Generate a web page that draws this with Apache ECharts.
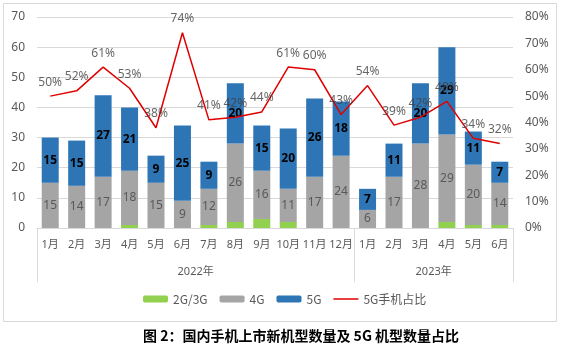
<!DOCTYPE html>
<html><head><meta charset="utf-8">
<script src="https://cdn.jsdelivr.net/npm/echarts@6/dist/echarts.min.js"></script>
<style>html,body{margin:0;padding:0;background:#fff}#c{width:563px;height:350px}</style>
</head><body><div id="c"></div>
<script>
const months = ['1月','2月','3月','4月','5月','6月','7月','8月','9月','10月','11月','12月','1月','2月','3月','4月','5月','6月'];
const yearLabels = ['2022年','2023年'];
const g23 = [0,0,0,1,0,0,1,2,3,2,0,0,0,0,0,2,1,1];
const g4 = [15,14,17,18,15,9,12,26,16,11,17,24,6,17,28,29,20,14];
const g5 = [15,15,27,21,9,25,9,20,15,20,26,18,7,11,20,29,11,7];
const share5g = [50,52,61,53,38,74,41,42,44,61,60,43,54,39,42,48,34,32];
const leftTicks = [0,70,10];
const rightTicks = [0,80,10];

const FONT = '"Noto Sans","Noto Sans CJK SC",sans-serif';
const chart = echarts.init(document.getElementById('c'), null, {renderer:'canvas'});
chart.setOption({
  animation:false,
  textStyle:{fontFamily:FONT},
  title:{text:'图 2：国内手机上市新机型数量及 5G 机型数量占比', left:138, top:324,
    textStyle:{fontSize:14, fontWeight:'bold', color:'#000', fontFamily:'"Noto Sans CJK SC",sans-serif'}},
  graphic:[{type:'rect', shape:{x:3.5,y:3.5,width:553,height:318}, style:{fill:'none', stroke:'#D9D9D9', lineWidth:1}, silent:true}],
  legend:{left:138, top:288, itemWidth:25, itemHeight:7, itemGap:12,
    textStyle:{fontSize:12, color:'#595959', fontFamily:'"Noto Sans CJK SC",sans-serif'},
    data:['2G/3G','4G','5G',{name:'5G手机占比', icon:'path://M0,0H25V1.5H0Z', itemStyle:{color:'#E00000', borderWidth:0}}]},
  grid:{left:37, right:50, top:17, bottom:122, containLabel:false},
  xAxis:[
    {type:'category', data:months, position:'bottom',
     axisLine:{lineStyle:{color:'#D9D9D9'}}, axisTick:{show:false},
     axisLabel:{interval:0, margin:11, fontSize:11, color:'#595959'}},
    {type:'value', min:0, max:18, position:'bottom',
     axisLine:{show:false}, splitLine:{show:false},
     axisTick:{show:true, length:54, lineStyle:{color:'#D9D9D9'}, customValues:[0,12,18]},
     axisLabel:{customValues:[6,15], margin:38, fontSize:11, color:'#595959',
       formatter:v=> v===6?yearLabels[0]:(v===15?yearLabels[1]:'')}}
  ],
  yAxis:[
    {type:'value', min:leftTicks[0], max:leftTicks[1], interval:leftTicks[2],
     axisLine:{show:false}, axisTick:{show:false},
     axisLabel:{margin:12, fontSize:12, color:'#595959'},
     splitLine:{lineStyle:{color:'#D9D9D9'}}},
    {type:'value', min:rightTicks[0], max:rightTicks[1], interval:rightTicks[2],
     axisLine:{show:false}, axisTick:{show:false}, splitLine:{show:false},
     axisLabel:{margin:12, fontSize:12, color:'#595959', formatter:'{value}%'}}
  ],
  series:[
    {name:'2G/3G', type:'bar', stack:'a', data:g23, barWidth:17, itemStyle:{color:'#92D050'}},
    {name:'4G', type:'bar', stack:'a', data:g4, barWidth:17, itemStyle:{color:'#A5A5A5'},
     label:{show:true, position:'inside', fontSize:12, color:'#595959'}},
    {name:'5G', type:'bar', stack:'a', data:g5, barWidth:17, itemStyle:{color:'#2E75B6'},
     label:{show:true, position:'inside', fontSize:12, fontWeight:'bold', color:'#000'}},
    {name:'5G手机占比', type:'line', yAxisIndex:1, data:share5g, symbol:'none',
     lineStyle:{color:'#E00000', width:1.5}, itemStyle:{color:'#E00000'}, z:3},
    {name:'占比标签', type:'scatter', yAxisIndex:1, data:share5g, symbolSize:0, z:4,
     itemStyle:{color:'rgba(0,0,0,0)'},
     label:{show:true, position:'top', distance:8, fontSize:12, color:'#404040', formatter:p=>p.value+'%'}}
  ]
});
</script></body></html>
